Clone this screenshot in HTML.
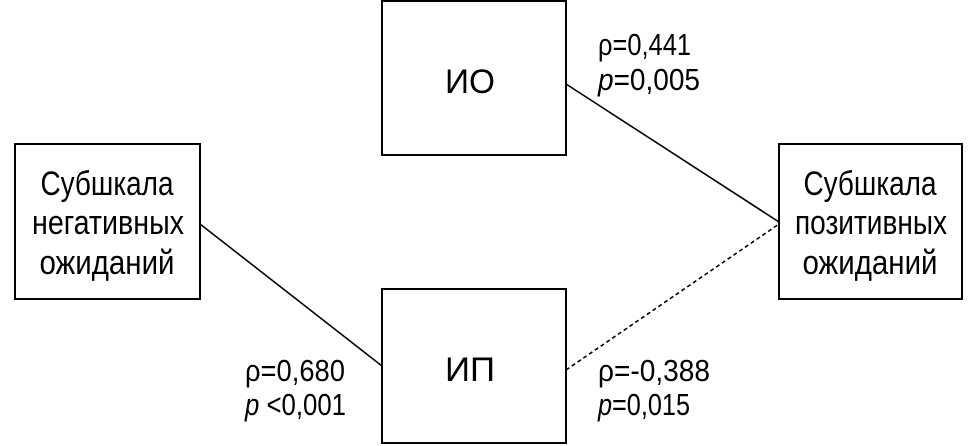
<!DOCTYPE html>
<html><head><meta charset="utf-8"><style>
html,body{margin:0;padding:0;background:#fff;}
svg{display:block;}
text{font-family:"Liberation Sans",sans-serif;font-size:34px;fill:#000;}
.l{font-size:31px;}
</style></head><body>
<svg width="980" height="446" viewBox="0 0 980 446" xmlns="http://www.w3.org/2000/svg">
<g fill="#fff" stroke="#000" stroke-width="2">
<rect x="15" y="144" width="185" height="155"/>
<rect x="382" y="1" width="184" height="154"/>
<rect x="382" y="289" width="184" height="154"/>
<rect x="779" y="144" width="183" height="155"/>
</g>
<g stroke="#000" stroke-width="1.6">
<line x1="200" y1="224" x2="382" y2="366"/>
<line x1="566" y1="84" x2="779" y2="222"/>
<line x1="566" y1="370" x2="779" y2="224" stroke-dasharray="4,3"/>
</g>
<text x="107" y="195" text-anchor="middle" textLength="133" lengthAdjust="spacingAndGlyphs">Субшкала</text>
<text x="108" y="234" text-anchor="middle" textLength="152" lengthAdjust="spacingAndGlyphs">негативных</text>
<text x="107" y="274" text-anchor="middle" textLength="135" lengthAdjust="spacingAndGlyphs">ожиданий</text>
<text x="870" y="195" text-anchor="middle" textLength="133" lengthAdjust="spacingAndGlyphs">Субшкала</text>
<text x="871" y="234" text-anchor="middle" textLength="152" lengthAdjust="spacingAndGlyphs">позитивных</text>
<text x="870" y="274" text-anchor="middle" textLength="135" lengthAdjust="spacingAndGlyphs">ожиданий</text>
<text x="470" y="93" text-anchor="middle" textLength="50" lengthAdjust="spacingAndGlyphs">ИО</text>
<text x="470" y="381" text-anchor="middle" textLength="50" lengthAdjust="spacingAndGlyphs">ИП</text>
<text class="l" x="598" y="55" textLength="93" lengthAdjust="spacingAndGlyphs">ρ=0,441</text>
<text class="l" x="598" y="90" textLength="102" lengthAdjust="spacingAndGlyphs"><tspan font-style="italic">p</tspan>=0,005</text>
<text class="l" x="598" y="381" textLength="112" lengthAdjust="spacingAndGlyphs">ρ=-0,388</text>
<text class="l" x="598" y="415" textLength="92" lengthAdjust="spacingAndGlyphs"><tspan font-style="italic">p</tspan>=0,015</text>
<text class="l" x="245" y="381" textLength="100" lengthAdjust="spacingAndGlyphs">ρ=0,680</text>
<text class="l" x="245" y="415" textLength="101" lengthAdjust="spacingAndGlyphs"><tspan font-style="italic">p</tspan> &lt;0,001</text>
</svg>
</body></html>
